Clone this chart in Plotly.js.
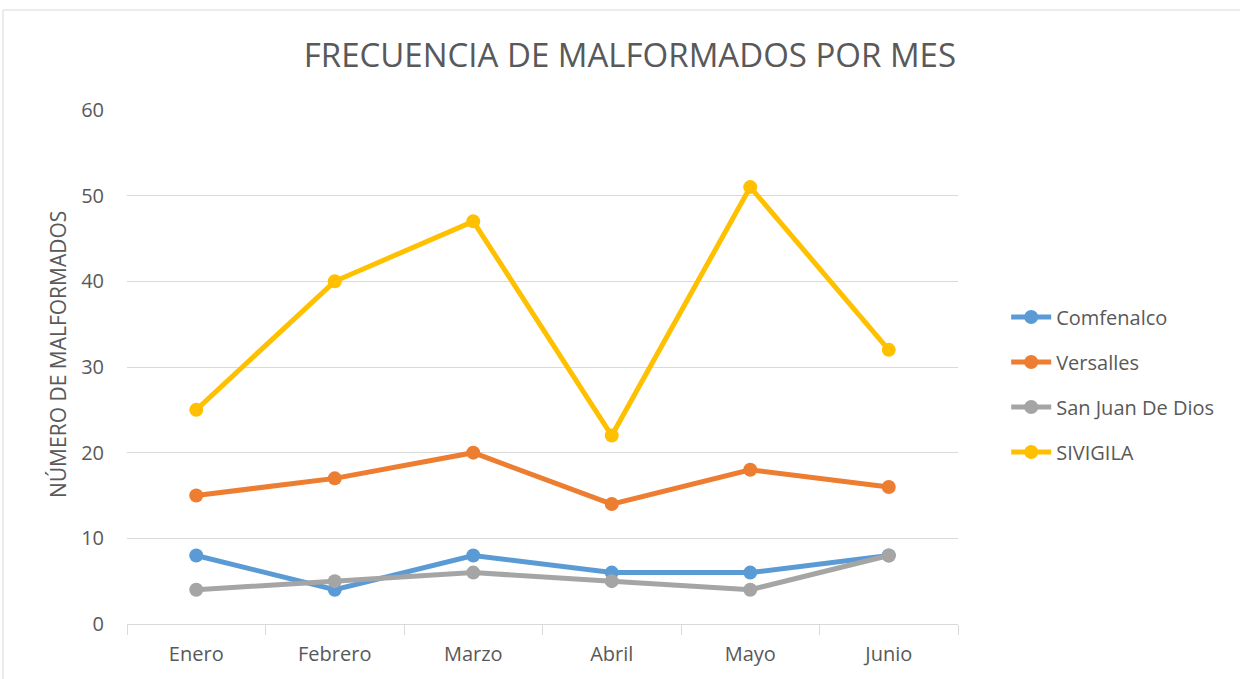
<!DOCTYPE html>
<html>
<head>
<meta charset="utf-8">
<script src="https://cdn.plot.ly/plotly-3.0.1.min.js"></script>
<style>html,body{margin:0;padding:0;background:#fff;}#chart{width:1240px;height:679px;}</style>
</head>
<body>
<div id="chart"></div>
<script>
const months = ["Enero", "Febrero", "Marzo", "Abril", "Mayo", "Junio"];
const comfenalco = [8, 4, 8, 6, 6, 8];
const versalles = [15, 17, 20, 14, 18, 16];
const sanJuan = [4, 5, 6, 5, 4, 8];
const sivigila = [25, 40, 47, 22, 51, 32];
const seriesNames = ["Comfenalco", "Versalles", "San Juan De Dios", "SIVIGILA"];
const colors = ["#5B9BD5", "#ED7D31", "#A5A5A5", "#FFC000"];
const allSeries = [comfenalco, versalles, sanJuan, sivigila];

const traces = allSeries.map((vals, i) => ({
  x: months, y: vals, name: seriesNames[i], type: "scatter", mode: "lines+markers",
  legendgroup: "g" + i,
  line: {color: colors[i], width: 5},
  marker: {color: colors[i], size: 14}
}));

const font = "Open Sans, Noto Sans, sans-serif";
const layout = {
  width: 1240, height: 679,
  margin: {l: 127, r: 282, t: 110, b: 55},
  paper_bgcolor: "#fff", plot_bgcolor: "#fff",
  font: {family: font, color: "#595959", size: 20},
  title: {text: "FRECUENCIA DE MALFORMADOS POR MES", xref: "container", yref: "container",
    x: 0.508, xanchor: "center", y: 0.918, yanchor: "middle",
    font: {family: "Open Sans, sans-serif", size: 33, color: "#595959"}},
  xaxis: {type: "category", tickson: "boundaries", ticks: "outside", ticklen: 10, tickcolor: "#d9d9d9",
    showline: true, linecolor: "#d9d9d9", linewidth: 1, showgrid: false, zeroline: false,
    ticklabelstandoff: 12,
    tickfont: {size: 20, color: "#595959"}, range: [-0.5, 5.5], fixedrange: true},
  yaxis: {range: [0, 60], dtick: 10, showgrid: true, gridcolor: "#d9d9d9", gridwidth: 1,
    zeroline: false, showline: false, ticks: "", ticklabelstandoff: 22,
    tickfont: {size: 20, color: "#595959"}},
  annotations: [{text: "NÚMERO DE MALFORMADOS", xref: "paper", yref: "paper",
    x: (58 - 127) / 831, y: (624 - 355) / 514, xanchor: "center", yanchor: "middle",
    textangle: -90, showarrow: false, font: {size: 21, color: "#595959"}}],
  legend: {x: 1.058, xanchor: "left", y: 0.466, yanchor: "middle", traceorder: "grouped",
    tracegroupgap: 16, font: {size: 20, color: "#595959"}, itemwidth: 40, bgcolor: "rgba(0,0,0,0)"},
  shapes: [{type: "rect", xref: "paper", yref: "paper", x0: -0.1492, x1: 2, y0: -1, y1: 1.1946,
    line: {color: "#d9d9d9", width: 1}, fillcolor: "rgba(0,0,0,0)", layer: "below"}],
  showlegend: true
};
Plotly.newPlot("chart", traces, layout, {displayModeBar: false, staticPlot: true});
</script>
</body>
</html>
